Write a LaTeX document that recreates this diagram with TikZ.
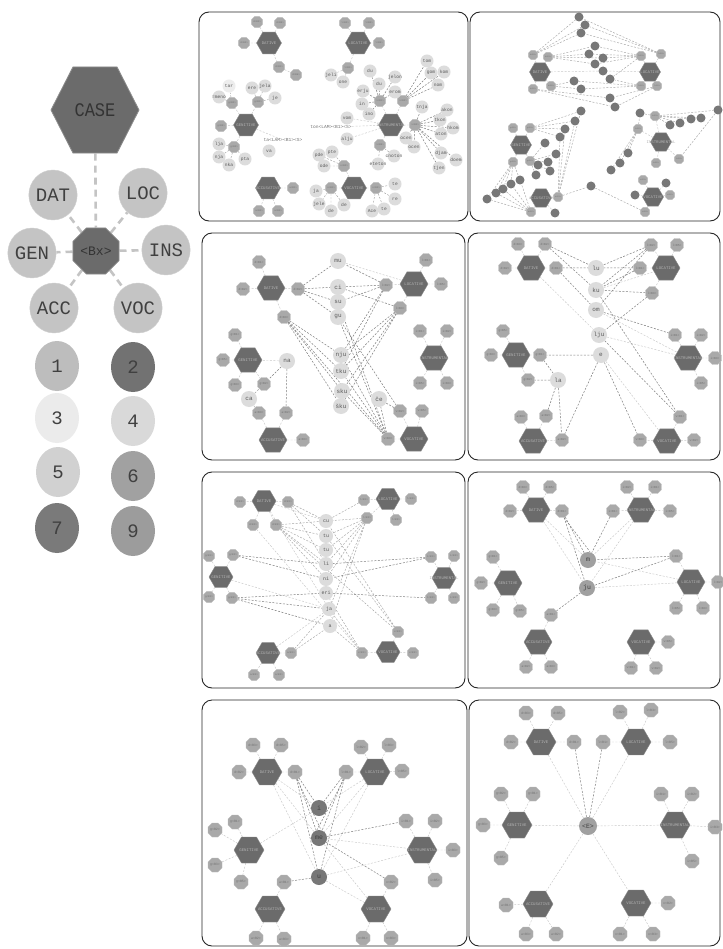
\documentclass[tikz,border=0pt]{standalone}
\usepackage{fontspec}
\setmainfont{Liberation Mono}
\setmonofont{Liberation Mono}
\usetikzlibrary{shapes.geometric}
\definecolor{hexc}{HTML}{6B6B6B}
\definecolor{hexb}{HTML}{8C8C8C}
\definecolor{octc}{HTML}{A9A9A9}
\definecolor{octb}{HTML}{BDBDBD}
\definecolor{wcc}{HTML}{DCDCDC}
\definecolor{dotc}{HTML}{777777}
\definecolor{midc}{HTML}{A0A0A0}
\definecolor{legc}{HTML}{C4C4C4}
\definecolor{edl}{HTML}{C8C8C8}
\definecolor{edm}{HTML}{A5A5A5}
\definecolor{edd}{HTML}{7E7E7E}
\pgfdeclarelayer{bg}
\pgfdeclarelayer{edges}
\pgfsetlayers{bg,edges,main}
\tikzset{
 panel/.style={draw=black!85,line width=0.9pt,rounded corners=10pt,fill=white},
 lhex/.style={regular polygon,regular polygon sides=6,minimum size=88pt,inner sep=0pt,fill=hexc,draw=hexb,line width=0.8pt,text=black!80,font=\fontsize{17}{17}\selectfont},
 loct/.style={regular polygon,regular polygon sides=8,minimum size=50pt,inner sep=0pt,fill=hexc,draw=hexb,line width=0.8pt,text=black!80,font=\fontsize{13}{13}\selectfont},
 lcir/.style={ellipse,minimum width=44pt,minimum height=50pt,inner sep=0pt,fill=legc,draw=legc!80,text=black!75,font=\fontsize{19}{19}\selectfont},
 ledge/.style={draw=legc,line width=2.6pt,dash pattern=on 7pt off 5pt},
 phex/.style={regular polygon,regular polygon sides=6,minimum size=28pt,inner sep=0pt,fill=hexc,draw=hexb,line width=0.4pt},
 poct/.style={regular polygon,regular polygon sides=8,minimum size=14pt,inner sep=0pt,fill=octc,draw=octb,line width=0.3pt,text=black!55,font=\fontsize{3}{3}\selectfont},
 pcir/.style={circle,minimum size=16pt,inner sep=0pt,fill=wcc},
 pdot/.style={circle,minimum size=9pt,inner sep=0pt,fill=dotc},
 pmid/.style={circle,minimum size=16pt,inner sep=0pt,fill=midc,text=black!75,font=\fontsize{6.5}{6.5}\selectfont},
 hl/.style={inner sep=0pt,text=black!30,font=\fontsize{4}{4}\selectfont},
 wl/.style={inner sep=0pt,text=black!65,font=\fontsize{6}{6}\selectfont},
 ld/.style={draw=edl,line width=0.45pt,dash pattern=on 2pt off 1.5pt},
 md/.style={draw=edm,line width=0.45pt,dash pattern=on 2pt off 1.5pt},
 dd/.style={draw=edd,line width=0.5pt,dash pattern=on 2pt off 1.5pt},
}
\newcommand\mkH[4][]{\node[phex,#1,label={[hl]center:#4}] (#2) at (#3) {};}
\newcommand\mkO[4][]{\node[poct,#1] (#2) at (#3) {#4};}
\newcommand\mkW[4][]{\node[pcir,#1,label={[wl]center:#4}] (#2) at (#3) {};}
\newcommand\mkD[3][]{\node[pdot,#1] (#2) at (#3) {};}
\newcommand\fan[3][ld]{\foreach \nn in {#3}{\draw[#1] (#2) -- (\nn);}}
\begin{document}
\begin{tikzpicture}[x=1pt,y=-1pt]
\useasboundingbox (0,0) rectangle (722,949);
% ---------------- panel frames
\begin{pgfonlayer}{bg}
\fill[white] (0,0) rectangle (722,949);
\draw[panel] (199,12) rectangle (468,221);
\draw[panel] (470,12) rectangle (720,221);
\draw[panel] (202,233) rectangle (465,460);
\draw[panel] (468,233) rectangle (720,460);
\draw[panel] (202,472) rectangle (465,688);
\draw[panel] (468,472) rectangle (720,688);
\draw[panel] (202,700) rectangle (467,946);
\draw[panel] (469,700) rectangle (720,946);
\end{pgfonlayer}
% ---------------- legend
\begin{scope}[shift={(95,110)},yscale=1.13]
\node[lhex,transform shape] (case) at (0,0) {CASE};
\end{scope}
\node[loct] (bx) at (96,251) {<Bx>};
\node[lcir] (dat) at (53,195) {DAT};
\node[lcir] (loc) at (143,193) {LOC};
\node[lcir] (gen) at (32,253) {GEN};
\node[lcir] (ins) at (166,250) {INS};
\node[lcir] (acc) at (54,308) {ACC};
\node[lcir] (voc) at (138,308) {VOC};
\node[lcir,fill=black!26,draw=none] (n1) at (57,366) {1};
\node[lcir,fill=hexc!95,draw=none] (n2) at (133,367) {2};
\node[lcir,fill=black!8,draw=none] (n3) at (57,418) {3};
\node[lcir,fill=black!15,draw=none] (n4) at (133,421) {4};
\node[lcir,fill=black!18,draw=none] (n5) at (58,472) {5};
\node[lcir,fill=black!37,draw=none] (n6) at (133,476) {6};
\node[lcir,fill=black!52,draw=none] (n7) at (57,528) {7};
\node[lcir,fill=black!39,draw=none] (n9) at (133,531) {9};
\begin{pgfonlayer}{edges}
\draw[ledge] (case) -- (bx);
\fan[ledge]{bx}{dat,loc,gen,ins,acc,voc}
\end{pgfonlayer}
% ---------------- panel 1
\begin{scope}[phex/.append style={minimum size=25pt},poct/.append style={minimum size=12pt,font=\fontsize{2.5}{2.5}\selectfont},pcir/.append style={minimum size=13pt},wl/.append style={font=\fontsize{4.6}{4.6}\selectfont}]
\mkH{aH1}{269,43}{DATIVE}
\mkH{aH2}{358,43}{LOCATIVE}
\mkH{aH3}{246,125}{GENITIVE}
\mkH{aH4}{391,125}{INSTRUMENTAL}
\mkH{aH5}{268,188}{ACCUSATIVE}
\mkH{aH6}{354,188}{VOCATIVE}
\mkO{a1}{257,22}{d<B3>}
\mkO{a2}{280,23}{d<B5>}
\mkO{a3}{244,43}{d<B2>}
\mkO{a4}{279,67}{d<B1>}
\mkO{a5}{296,75}{d<B6>}
\mkO{a6}{345,23}{l<B2>}
\mkO{a7}{369,23}{l<B3>}
\mkO{a8}{379,43}{l<B5>}
\mkO{a9}{348,68}{l<B1>}
\mkW{aw1}{331,75}{jeli}
\mkW{aw2}{343,82}{one}
\mkO{a10}{232,103}{g<B2>}
\mkO{a11}{258,102}{g<B1>}
\mkO{a12}{221,126}{g<B5>}
\mkO{a13}{234,147}{g<B3>}
\mkW[fill=black!7]{aw3}{229,86}{tar}
\mkW{aw4}{219,97}{=meno}
\mkW{aw5}{252,88}{ere}
\mkW{aw6}{265,86}{jela}
\mkW{aw7}{275,98}{je}
\mkW{aw8}{219,144}{lja}
\mkW{aw9}{219,157}{nja}
\mkW{aw10}{229,165}{nka}
\mkW{aw11}{245,159}{pta}
\node[wl,text=black!55] (at1) at (283,140) {ta<LAM><B1><S>};
\mkW{aw12}{269,151}{va}
\mkO{a14}{380,101}{i<B1>}
\mkO{a15}{403,101}{i<B2>}
\mkO{a16}{415,125}{i<B3>}
\mkO{a17}{380,145}{i<B5>}
\mkW{aw13}{370,71}{du}
\mkW{aw14}{379,84}{du}
\mkW{aw15}{395,77}{jelon}
\mkW{aw16}{363,91}{erju}
\mkW{aw17}{395,92}{erom}
\mkW{aw18}{362,104}{in}
\mkW{aw19}{369,114}{ino}
\mkW{aw20}{427,61}{tom}
\mkW{aw21}{431,73}{gom}
\mkW{aw22}{444,72}{kom}
\mkW{aw23}{438,85}{nom}
\mkW{aw24}{347,118}{vom}
\node[wl,text=black!55] (at2) at (331,127) {ton<LAM><B1><S>};
\mkW{aw25}{347,139}{alju}
\mkW{aw26}{422,107}{tnja}
\mkW{aw27}{447,110}{akon}
\mkW{aw28}{440,120}{tkon}
\mkW{aw29}{453,128}{hkom}
\mkW{aw30}{441,134}{aton}
\mkW{aw31}{406,138}{ocen}
\mkW{aw32}{414,147}{ocen}
\mkW{aw33}{441,153}{djam}
\mkW{aw34}{456,160}{doem}
\mkW{aw35}{439,168}{tjen}
\mkW{aw36}{394,156}{cnoton}
\mkW{aw37}{378,164}{eteton}
\mkO{a18}{293,188}{a<B1>}
\mkO{a19}{259,211}{a<B2>}
\mkO{a20}{278,211}{a<B3>}
\mkO{a21}{331,188}{v<B1>}
\mkW{aw38}{316,191}{ja}
\mkW{aw39}{319,204}{jele}
\mkW{aw40}{331,211}{de}
\mkW{aw41}{344,205}{de}
\mkO{a22}{344,166}{v<B2>}
\mkW{aw42}{332,152}{pte}
\mkW{aw43}{319,155}{pde}
\mkW{aw44}{324,166}{ode}
\mkO{a23}{376,188}{v<B3>}
\mkW{aw45}{395,184}{te}
\mkW{aw46}{395,199}{re}
\mkW{aw47}{384,209}{te}
\mkW{aw48}{372,211}{Ace}
\begin{pgfonlayer}{edges}
\fan{aH1}{a1,a2,a3,a4}
\draw[ld] (a4) -- (a5);
\fan{aH2}{a6,a7,a8,a9}
\fan{a9}{aw1,aw2}
\fan{aH3}{a10,a11,a12,a13,at1}
\fan[md]{a10}{aw3,aw4}
\fan[md]{a11}{aw5,aw6,aw7}
\fan[md]{a13}{aw8,aw9,aw10,aw11}
\fan{aH4}{a14,a15,a16,a17,aw24,at2,aw25}
\fan[dd]{a14}{aw13,aw14,aw15,aw16,aw17,aw18,aw19}
\fan[dd]{a15}{aw20,aw21,aw22,aw23}
\fan[dd]{a16}{aw26,aw27,aw28,aw29,aw30,aw31,aw32,aw33,aw34,aw35}
\fan[md]{a17}{aw36,aw37}
\fan{aH5}{a18,a19,a20}
\fan{aH6}{a21,a22,a23}
\fan[md]{a21}{aw38,aw39,aw40,aw41}
\fan[md]{a22}{aw42,aw43,aw44}
\fan[md]{a23}{aw45,aw46,aw47,aw48}
\end{pgfonlayer}
\end{scope}
% ---------------- panel 2
\begin{scope}[phex/.append style={minimum size=21pt},poct/.append style={minimum size=10pt,font=\fontsize{2}{2}\selectfont}]
\mkH{bH1}{540,72}{DATIVE}
\mkH{bH2}{650,72}{LOCATIVE}
\mkH{bH3}{521,145}{GENITIVE}
\mkH{bH4}{661,142}{INSTRUMENTAL}
\mkH{bH5}{541,198}{ACCUSATIVE}
\mkH{bH6}{653,197}{VOCATIVE}
\mkO{b1}{533,55}{d<B3>}
\mkO{b2}{548,57}{d<B1>}
\mkO{b3}{533,89}{d<B2>}
\mkO{b4}{551,86}{d<B5>}
\mkO{b5}{641,56}{l<B1>}
\mkO{b6}{661,54}{l<B3>}
\mkO{b7}{641,86}{l<B2>}
\mkO{b8}{657,86}{l<B5>}
\mkO{b9}{513,128}{g<B5>}
\mkO{b10}{530,128}{g<B1>}
\mkO{b11}{513,162}{g<B3>}
\mkO{b12}{530,161}{g<B2>}
\mkO{b14}{558,197}{a<B1>}
\mkO{b15}{531,212}{a<B2>}
\mkO{b16}{655,116}{i<B1>}
\mkO{b17}{638,129}{i<B2>}
\mkO{b18}{656,163}{i<B5>}
\mkO{b19}{679,159}{i<B3>}
\mkO{b20}{643,180}{v<B1>}
\mkO{b21}{645,212}{v<B3>}
\mkO{b22}{670,195}{v<B2>}
\mkD{bk1}{579,17}\mkD{bk2}{585,25}\mkD{bk3}{581,33}\mkD{bk4}{595,46}
\mkD{bk5}{589,54}\mkD{bk6}{603,58}\mkD{bk7}{595,64}\mkD{bk8}{603,71}
\mkD{bk9}{610,79}\mkD{bk10}{574,81}\mkD{bk11}{581,89}\mkD{bk12}{610,98}
\mkD{bk13}{615,107}\mkD{bk14}{581,111}\mkD{bk15}{575,121}\mkD{bk16}{565,129}
\mkD{bk17}{560,137}\mkD{bk18}{545,143}\mkD{bk19}{556,154}\mkD{bk20}{548,162}
\mkD{bk21}{538,165}\mkD{bk22}{550,171}\mkD{bk23}{536,175}\mkD{bk24}{520,180}
\mkD{bk25}{511,184}\mkD{bk26}{503,189}\mkD{bk27}{496,193}\mkD{bk28}{487,199}
\mkD{bk29}{555,213}\mkD{bk30}{591,186}\mkD{bk31}{640,113}\mkD{bk32}{670,125}
\mkD{bk33}{680,123}\mkD{bk34}{691,119}\mkD{bk35}{701,118}\mkD{bk36}{718,110}
\mkD{bk37}{628,153}\mkD{bk38}{620,163}\mkD{bk39}{611,170}\mkD{bk40}{666,183}
\mkD{bk41}{635,195}
\begin{pgfonlayer}{edges}
\fan{bH1}{b1,b2,b3,b4,bk8}
\fan{bH2}{b5,b6,b7,b8,bk8}
\fan[md]{b1}{bk1,bk2,bk3}
\fan[md]{b6}{bk1,bk2,bk3}
\fan[md]{b2}{bk4,bk5,bk6,bk7}
\fan[md]{b5}{bk4,bk5,bk6,bk7,bk9}
\fan[md]{b4}{bk10,bk11}
\fan[md]{b7}{bk10,bk11,bk9}
\fan[md]{b3}{bk12,bk13}
\fan[md]{b8}{bk12,bk13}
\fan{bH3}{b9,b10,b11,b12}
\fan[md]{b10}{bk14,bk15,bk16,bk17}
\fan[md]{b14}{bk14,bk15,bk16,bk17,bk30}
\fan[md]{b12}{bk18,bk19,bk20,bk21,bk22,bk23}
\fan[md]{b11}{bk24,bk25,bk26,bk27,bk28}
\fan[md]{b15}{bk24,bk25,bk26,bk27,bk28}
\fan{bH5}{b14,b15,bk29}
\draw[md] (bk30) -- (b21);
\fan{bH4}{b16,b17,b18,b19}
\fan[md]{b16}{bk31,bk32,bk33,bk34,bk35,bk36}
\fan[md]{b17}{bk37,bk38,bk39,bk31}
\draw[md] (bk36) -- (b19);
\fan{bH6}{b20,b21,b22,bk40,bk41}
\end{pgfonlayer}
\end{scope}
% ---------------- panel 3
\mkH{cH1}{271,288}{DATIVE}
\mkH{cH2}{414,284}{LOCATIVE}
\mkH{cH3}{248,360}{GENITIVE}
\mkH{cH4}{434,358}{INSTRUMENTAL}
\mkH{cH5}{273,440}{ACCUSATIVE}
\mkH{cH6}{414,439}{VOCATIVE}
\mkO{c1}{259,262}{d<B1>}
\mkO{c2}{243,289}{d<B2>}
\mkO{c3}{298,289}{d<B2>}
\mkO{c4}{284,317}{d<B3>}
\mkO{c5}{426,260}{l<B1>}
\mkO{c6}{441,284}{l<B5>}
\mkO{c7}{386,285}{l<B2>}
\mkO{c8}{400,308}{l<B3>}
\mkO{c9}{235,335}{g<B1>}
\mkO{c10}{223,360}{g<B5>}
\mkO{c11}{235,385}{g<B3>}
\mkO{c12}{264,384}{g<B2>}
\mkO{c13}{420,331}{i<B1>}
\mkO{c14}{447,331}{i<B2>}
\mkO{c15}{420,383}{i<B5>}
\mkO{c16}{447,383}{i<B3>}
\mkO{c17}{259,413}{a<B3>}
\mkO{c18}{286,413}{a<B2>}
\mkO{c19}{303,440}{a<B3>}
\mkO{c20}{400,411}{v<B2>}
\mkO{c21}{422,411}{v<B5>}
\mkO{c22}{388,439}{v<B3>}
\mkW{cmu}{338,261}{mu}
\mkW{cci}{338,287}{ci}
\mkW{csu}{338,302}{su}
\mkW{cgu}{338,317}{gu}
\mkW{cnju}{341,355}{nju}
\mkW{ctku}{341,371}{tku}
\mkW{csku}{342,391}{sku}
\mkW{cxku}{341,406}{šku}
\mkW{cna}{287,361}{na}
\mkW{cca}{249,399}{ca}
\mkW{cce}{379,399}{če}
\begin{pgfonlayer}{edges}
\fan{cH1}{c1,c2,c3,c4}
\fan{cH2}{c5,c6,c7,c8}
\fan{cH3}{c9,c10,c11,c12}
\fan{cH4}{c13,c14,c15,c16}
\fan{cH5}{c17,c18,c19}
\fan{cH6}{c20,c21,c22}
\fan[dd]{c3}{cmu,cci,csu,cgu}
\fan[dd]{c7}{cmu,cci,csu,cnju,ctku}
\fan[dd]{c4}{cnju,ctku,csku,cxku,c22}
\fan[dd]{c8}{cci,cnju,ctku,csku,cxku}
\fan[dd]{c22}{cgu,csu,cnju,ctku,csku,cce}
\fan[dd]{c20}{cce,cgu}
\draw[ld] (cmu) -- (cH2);
\fan[dd]{cna}{c12,c18}
\draw[ld] (cna) -- (cH3);
\fan[md]{cca}{c12,c17}
\end{pgfonlayer}
% ---------------- panel 4
\mkH{dH1}{531,268}{DATIVE}
\mkH{dH2}{666,268}{LOCATIVE}
\mkH{dH3}{516,355}{GENITIVE}
\mkH{dH4}{688,358}{INSTRUMENTAL}
\mkH{dH5}{533,441}{ACCUSATIVE}
\mkH{dH6}{667,441}{VOCATIVE}
\mkO{d1}{518,244}{d<B3>}
\mkO{d2}{545,244}{d<B2>}
\mkO{d3}{505,268}{d<B2>}
\mkO{d4}{556,268}{d<B1>}
\mkO{d5}{651,245}{l<B2>}
\mkO{d6}{677,245}{l<B5>}
\mkO{d7}{640,268}{l<B1>}
\mkO{d8}{652,293}{l<B3>}
\mkO{d9}{503,331}{g<B5>}
\mkO{d10}{491,355}{g<B3>}
\mkO{d11}{540,355}{g<B1>}
\mkO{d12}{528,380}{g<B2>}
\mkO{d13}{675,335}{i<B1>}
\mkO{d14}{701,335}{i<B2>}
\mkO{d15}{715,358}{i<B3>}
\mkO{d16}{701,383}{i<B5>}
\mkO{d17}{521,417}{a<B3>}
\mkO{d18}{546,416}{a<B2>}
\mkO{d19}{562,440}{a<B2>}
\mkO{d20}{680,417}{v<B1>}
\mkO{d21}{640,440}{v<B3>}
\mkO{d22}{694,440}{v<B2>}
\mkW{dlu}{596,268}{lu}
\mkW{dku}{596,290}{ku}
\mkW{dom}{596,310}{om}
\mkW{dlju}{599,335}{lju}
\mkW{de}{601,355}{e}
\mkW{dla}{558,380}{la}
\begin{pgfonlayer}{edges}
\fan{dH1}{d1,d2,d3,d4}
\fan{dH2}{d5,d6,d7,d8}
\fan{dH3}{d9,d10,d11,d12}
\fan{dH4}{d13,d14,d15,d16}
\fan{dH5}{d17,d18,d19}
\fan{dH6}{d20,d21,d22}
\fan[dd]{d2}{dlu,dku}
\fan[dd]{d4}{dlu,dom}
\fan[dd]{d7}{dlu,dku}
\fan[dd]{d5}{dlu,dku,dom}
\fan[dd]{d8}{dlju,dku}
\draw[dd] (dom) -- (d13);
\draw[ld] (dom) -- (dH4);
\draw[ld] (dlju) -- (dH4);
\draw[ld] (dH1) -- (dlju);
\draw[ld] (dku) -- (dH2);
\draw[dd] (dku) -- (d20);
\draw[dd] (dlju) -- (d20);
\fan[dd]{de}{d11,d19,d21}
\draw[ld] (de) -- (dH6);
\fan[dd]{dla}{d12,d11,d18,d19}
\end{pgfonlayer}
% ---------------- panel 5
\begin{scope}[phex/.append style={minimum size=24pt},poct/.append style={minimum size=12pt,font=\fontsize{2.6}{2.6}\selectfont},pcir/.append style={minimum size=14pt},wl/.append style={font=\fontsize{5}{5}\selectfont}]
\mkH{eH1}{264,501}{DATIVE}
\mkH{eH2}{388,499}{LOCATIVE}
\mkH{eH3}{221,577}{GENITIVE}
\mkH{eH4}{444,578}{INSTRUMENTAL}
\mkH{eH5}{268,653}{ACCUSATIVE}
\mkH{eH6}{388,652}{VOCATIVE}
\mkO{e1}{240,502}{d<B2>}
\mkO{e2}{288,502}{d<B1>}
\mkO{e3}{253,525}{d<B3>}
\mkO{e4}{276,525}{d<B5>}
\mkO{e5}{364,500}{l<B1>}
\mkO{e6}{411,499}{l<B2>}
\mkO{e7}{367,518}{l<B3>}
\mkO{e8}{396,520}{l<B5>}
\mkO{e9}{209,556}{g<B1>}
\mkO{e10}{233,555}{g<B2>}
\mkO{e11}{209,597}{g<B3>}
\mkO{e12}{232,598}{g<B5>}
\mkO{e13}{431,557}{i<B1>}
\mkO{e14}{454,556}{i<B2>}
\mkO{e15}{431,598}{i<B3>}
\mkO{e16}{454,598}{i<B5>}
\mkO{e17}{291,653}{a<B1>}
\mkO{e18}{254,675}{a<B2>}
\mkO{e19}{279,675}{a<B3>}
\mkO{e20}{362,653}{v<B1>}
\mkO{e21}{413,653}{v<B2>}
\mkO{e22}{398,632}{v<B3>}
\mkW{ecu}{326,521}{cu}
\mkW{etu}{326,536}{tu}
\mkW{etv}{326,550}{tu}
\mkW{eli}{326,564}{li}
\mkW{eni}{326,579}{ni}
\mkW{eeri}{326,593}{eri}
\mkW{eja}{329,609}{ja}
\mkW{ea}{330,626}{a}
\begin{pgfonlayer}{edges}
\fan{eH1}{e1,e2,e3,e4}
\fan{eH2}{e5,e6,e7,e8}
\fan{eH3}{e9,e10,e11,e12}
\fan{eH4}{e13,e14,e15,e16}
\fan{eH5}{e17,e18,e19}
\fan{eH6}{e20,e21,e22}
\fan[md]{e2}{ecu,etu,eli}
\fan[md]{e4}{ecu,etu,etv,eli,eni,e22}
\fan[md]{e5}{ecu}
\fan[md]{e7}{ecu,etu,etv,eli,eni,eja,ea}
\fan[dd]{e10}{eli,eni}
\fan[dd]{e13}{eli,eni}
\fan[dd]{e12}{eeri,eja,ea}
\draw[dd] (eeri) -- (e15);
\fan[md]{e22}{ecu,etu}
\fan[md]{e20}{eja,ea,eeri}
\fan[md]{e17}{eja,ea}
\fan{eH1}{ecu,eja}
\draw[ld] (eH3) -- (eja);
\draw[ld] (eH5) -- (eja);
\draw[ld] (e3) -- (e20);
\end{pgfonlayer}
\end{scope}
% ---------------- panel 6
\mkH{fH1}{536,510}{DATIVE}
\mkH{fH2}{641,510}{INSTRUMENTAL}
\mkH{fH3}{508,583}{GENITIVE}
\mkH{fH4}{691,582}{LOCATIVE}
\mkH{fH5}{538,642}{ACCUSATIVE}
\mkH{fH6}{641,642}{VOCATIVE}
\mkO{f1}{523,487}{d<B3>}
\mkO{f2}{550,487}{d<B5>}
\mkO{f3}{510,511}{d<B2>}
\mkO{f4}{562,511}{d<B1>}
\mkO{f5}{627,487}{i<B2>}
\mkO{f6}{655,487}{i<B1>}
\mkO{f7}{613,511}{i<B1>}
\mkO{f8}{670,511}{i<B5>}
\mkO{f9}{493,557}{g<B1>}
\mkO{f10}{481,583}{g<B2>}
\mkO{f11}{493,610}{g<B3>}
\mkO{f12}{520,611}{g<B5>}
\mkO{f13}{676,556}{l<B1>}
\mkO{f14}{718,582}{l<B2>}
\mkO{f15}{676,608}{l<B5>}
\mkO{f16}{703,608}{l<B3>}
\mkO{f17}{551,615}{a<B1>}
\mkO{f18}{526,667}{a<B2>}
\mkO{f19}{551,667}{a<B3>}
\mkO{f20}{668,642}{v<B5>}
\mkO{f21}{631,668}{v<B1>}
\mkO{f22}{656,668}{v<B2>}
\node[pmid] (fm) at (588,560) {m};
\node[pmid] (fju) at (587,588) {ju};
\begin{pgfonlayer}{edges}
\fan{fH1}{f1,f2,f3,f4}
\fan{fH2}{f5,f6,f7,f8}
\fan{fH3}{f9,f10,f11,f12}
\fan{fH4}{f13,f14,f15,f16}
\fan{fH5}{f17,f18,f19}
\fan{fH6}{f20,f21,f22}
\fan[dd]{f4}{fm,fju}
\draw[dd] ([xshift=2pt]f4.south) -- ([xshift=2pt]fm.north);
\fan{fH1}{fm,fju}
\draw[dd] (f7) -- (fm);
\fan{fH2}{fm,fju}
\fan[dd]{f13}{fm,fju}
\fan{fH4}{fm,fju}
\draw[dd] (fju) -- (f17);
\end{pgfonlayer}
% ---------------- panel 7
\begin{scope}[phex/.append style={minimum size=30pt},poct/.append style={minimum size=15pt,font=\fontsize{3.3}{3.3}\selectfont},pmid/.append style={fill=dotc}]
\mkH{gH1}{267,772}{DATIVE}
\mkH{gH2}{375,772}{LOCATIVE}
\mkH{gH3}{249,850}{GENITIVE}
\mkH{gH4}{422,850}{INSTRUMENTAL}
\mkH{gH5}{270,909}{ACCUSATIVE}
\mkH{gH6}{376,909}{VOCATIVE}
\mkO{g1}{253,745}{d<B3>}
\mkO{g2}{281,745}{d<B5>}
\mkO{g3}{239,772}{d<B2>}
\mkO{g4}{295,772}{d<B1>}
\mkO{g5}{361,747}{l<B2>}
\mkO{g6}{389,745}{l<B3>}
\mkO{g7}{346,772}{l<B1>}
\mkO{g8}{402,771}{l<B5>}
\mkO{g9}{235,822}{g<B1>}
\mkO{g10}{215,830}{g<B2>}
\mkO{g11}{215,865}{g<B3>}
\mkO{g12}{241,882}{g<B5>}
\mkO{g13}{406,821}{i<B1>}
\mkO{g14}{435,821}{i<B2>}
\mkO{g15}{453,850}{i<B3>}
\mkO{g16}{435,880}{i<B5>}
\mkO{g17}{284,882}{a<B1>}
\mkO{g18}{256,938}{a<B2>}
\mkO{g19}{284,939}{a<B3>}
\mkO{g20}{391,882}{v<B2>}
\mkO{g21}{363,938}{v<B1>}
\mkO{g22}{391,938}{v<B3>}
\node[pmid] (gi) at (319,808) {i};
\node[pmid] (gme) at (319,838) {me};
\node[pmid] (gu) at (319,877) {u};
\begin{pgfonlayer}{edges}
\fan{gH1}{g1,g2,g3,g4}
\fan{gH2}{g5,g6,g7,g8}
\fan{gH3}{g9,g10,g11,g12}
\fan{gH4}{g13,g14,g15,g16}
\fan{gH5}{g17,g18,g19}
\fan{gH6}{g20,g21,g22}
\fan[dd]{g4}{gi,gme,gu}
\draw[dd] ([xshift=2pt]g4.south) -- ([xshift=2pt]gme.north);
\fan[dd]{g7}{gi,gme,gu}
\draw[dd] ([xshift=-2pt]g7.south) -- ([xshift=-2pt]gme.north);
\fan{gH1}{gi,gme,gu}
\fan{gH2}{gi,gme,gu}
\fan[dd]{gme}{g13,g20}
\draw[ld] (gme) -- (gH4);
\draw[ld] (gu) -- (gH4);
\draw[dd] (gu) -- (g17);
\draw[ld] (gH3) -- (gi);
\draw[ld] (gu) -- (gH6);
\draw[ld] (gme) -- (gH6);
\end{pgfonlayer}
\end{scope}
% ---------------- panel 8
\begin{scope}[phex/.append style={minimum size=30pt},poct/.append style={minimum size=15pt,font=\fontsize{3.3}{3.3}\selectfont}]
\mkH{hH1}{541,742}{DATIVE}
\mkH{hH2}{636,742}{LOCATIVE}
\mkH{hH3}{517,825}{GENITIVE}
\mkH{hH4}{675,825}{INSTRUMENTAL}
\mkH{hH5}{538,904}{ACCUSATIVE}
\mkH{hH6}{636,903}{VOCATIVE}
\mkO{h1}{526,713}{d<B3>}
\mkO{h2}{558,713}{d<B5>}
\mkO{h3}{511,742}{d<B2>}
\mkO{h4}{574,742}{d<B1>}
\mkO{h5}{620,712}{l<B2>}
\mkO{h6}{651,710}{l<B3>}
\mkO{h7}{603,742}{l<B1>}
\mkO{h8}{670,742}{l<B5>}
\mkO{h9}{501,794}{g<B2>}
\mkO{h10}{533,794}{g<B1>}
\mkO{h11}{483,825}{g<B3>}
\mkO{h12}{501,858}{g<B5>}
\mkO{h13}{661,794}{i<B1>}
\mkO{h14}{692,794}{i<B2>}
\mkO{h15}{715,827}{i<B3>}
\mkO{h16}{692,861}{i<B5>}
\mkO{h17}{506,905}{a<B1>}
\mkO{h18}{526,934}{a<B3>}
\mkO{h19}{556,934}{a<B2>}
\mkO{h20}{668,903}{v<B2>}
\mkO{h21}{620,934}{v<B1>}
\mkO{h22}{653,934}{v<B3>}
\node[pmid,minimum size=18pt] (hE) at (588,826) {<E>};
\begin{pgfonlayer}{edges}
\fan{hH1}{h1,h2,h3,h4}
\fan{hH2}{h5,h6,h7,h8}
\fan{hH3}{h9,h10,h11,h12}
\fan{hH4}{h13,h14,h15,h16}
\fan{hH5}{h17,h18,h19}
\fan{hH6}{h20,h21,h22}
\fan{hE}{hH1,hH2,hH3,hH4,hH5,hH6}
\fan[dd]{hE}{h4,h7}
\end{pgfonlayer}
\end{scope}
\end{tikzpicture}
\end{document}
